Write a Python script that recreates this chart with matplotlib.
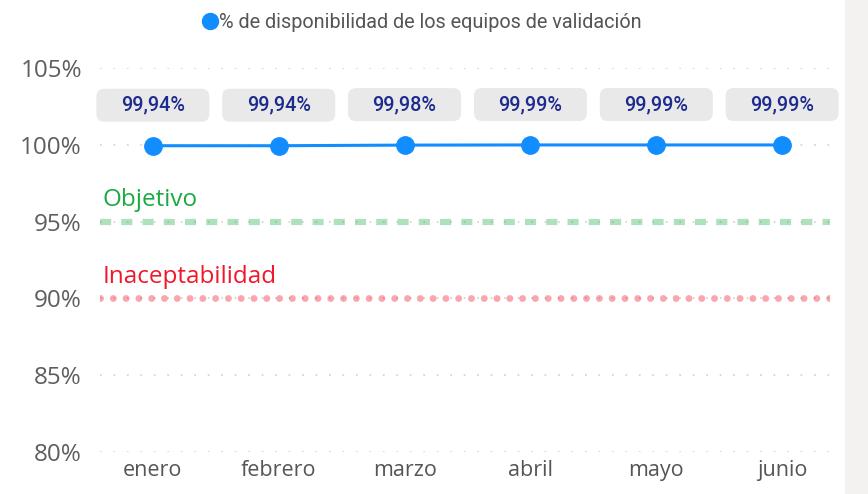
import matplotlib.pyplot as plt
import matplotlib.transforms as mtransforms
from matplotlib.patches import FancyBboxPatch, Rectangle
from matplotlib.lines import Line2D

# Datos
meses = ['enero', 'febrero', 'marzo', 'abril', 'mayo', 'junio']
disponibilidad = [99.94, 99.94, 99.98, 99.99, 99.99, 99.99]
etiquetas = ['99,94%', '99,94%', '99,98%', '99,99%', '99,99%', '99,99%']
objetivo = 95
inaceptable = 90
yticks = [80, 85, 90, 95, 100, 105]

azul = '#118DFF'
plt.rcParams['lines.scale_dashes'] = False

fig = plt.figure(figsize=(8.68, 4.94), dpi=100)
fig.patch.set_facecolor('white')
# franja gris a la derecha
fig.patches.append(Rectangle((845 / 868, 0), 1, 1, transform=fig.transFigure,
                             facecolor='#f3f2f1', edgecolor='none', zorder=0))

ax = fig.add_axes([100 / 868, 42 / 494, 730 / 868, 384 / 494])
ax.set_facecolor('none')
x = list(range(len(meses)))

# cuadrícula punteada
for yt in yticks:
    ax.axhline(yt, color='#cfcfcf', lw=1.2, dashes=(1.2, 8.5), zorder=1)

# líneas de referencia
ax.axhline(objetivo, color='#1aab40', alpha=0.35, lw=4.5, dashes=(8, 7.3),
           solid_capstyle='butt', zorder=2)
ax.axhline(inaceptable, color='#f0182a', alpha=0.38, lw=5, dashes=(0.01, 9.2),
           dash_capstyle='round', zorder=2)
blend = mtransforms.blended_transform_factory(ax.transAxes, ax.transData)
ax.text(0.004, objetivo + 1.0, 'Objetivo', transform=blend, color='#1aab40',
        fontsize=17.5, family='Open Sans', va='baseline')
ax.text(0.004, inaceptable + 1.0, 'Inaceptabilidad', transform=blend, color='#f0182a',
        fontsize=17.5, family='Open Sans', va='baseline')

# serie principal
ax.plot(x, disponibilidad, color=azul, lw=2.2, marker='o', markersize=12.5,
        zorder=4)

# etiquetas de datos con caja gris
for xi, yi, lab in zip(x, disponibilidad, etiquetas):
    tr = mtransforms.Affine2D() + mtransforms.ScaledTranslation(xi, yi, ax.transData)
    box = FancyBboxPatch((-56.5, 24), 113, 33,
                         boxstyle='round,pad=0,rounding_size=8',
                         facecolor='#e9e9e9', edgecolor='none', transform=tr,
                         zorder=5, clip_on=False)
    ax.add_artist(box)
    ax.annotate(lab, (xi, yi), xytext=(0, 40.5), textcoords='offset pixels',
                ha='center', va='center', fontsize=14.3, family='Roboto',
                fontweight='medium', color='#1e2b8e', zorder=6)

ax.set_xlim(-0.42, 5.38)
ax.set_ylim(80, 105)
ax.set_yticks(yticks)
ax.set_yticklabels([f'{v}%' for v in yticks], family='Open Sans', fontsize=17.5,
                   color='#605e5c')
ax.set_xticks(x)
ax.set_xticklabels(meses, family='Open Sans', fontsize=15.5, color='#555555')
ax.tick_params(axis='y', length=0, pad=13)
ax.tick_params(axis='x', length=0, pad=6)
for s in ax.spines.values():
    s.set_visible(False)

# leyenda
handle = Line2D([], [], color=azul, marker='o', linestyle='none', markersize=11.5)
fig.legend([handle], ['% de disponibilidad de los equipos de validación'],
           loc='upper center', bbox_to_anchor=(422 / 868, 1.0), frameon=False,
           handletextpad=0.05, handlelength=0.8, borderpad=0.15,
           prop={'family': 'Roboto', 'size': 14.3}, labelcolor='#555555')

fig.savefig('out.png', dpi=100)
